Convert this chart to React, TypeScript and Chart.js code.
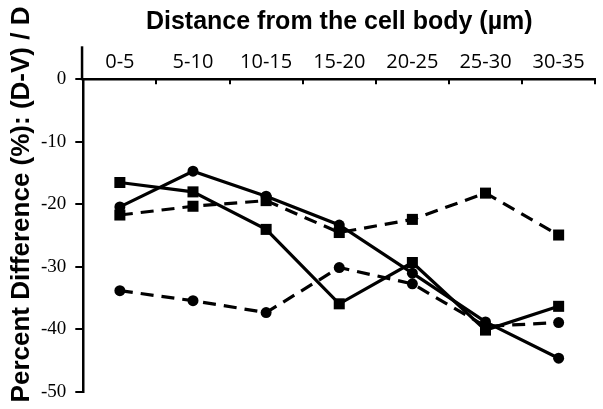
import React, { useEffect, useRef } from "react";
import { Chart, registerables } from "chart.js";

Chart.register(...registerables);

const categories = ["0-5", "5-10", "10-15", "15-20", "20-25", "25-30", "30-35"];
const solidCircle = [-20.4, -14.7, -18.7, -23.3, -31.0, -38.8, -44.6];
const solidSquare = [-16.5, -18.0, -24.0, -35.9, -29.3, -40.1, -36.3];
const dashedSquare = [-21.7, -20.3, -19.4, -24.5, -22.4, -18.2, -24.9];
const dashedCircle = [-33.8, -35.4, -37.3, -30.1, -32.7, -39.5, -38.9];
const yTicks = [0, -10, -20, -30, -40, -50];

const xTitle = "Distance from the cell body (µm)";
const yTitle = "Percent Difference (%): (D-V) / D";

const TITLE_FAMILY = "'Liberation Sans', Arial, sans-serif";

const axisExtension = {
  id: "axisExtension",
  afterDraw(chart: any) {
    const ys = chart.scales.y;
    const ctx = chart.ctx;
    const x = ys.right - 1.25;
    ctx.save();
    ctx.strokeStyle = "#000";
    ctx.lineWidth = 2.5;
    ctx.beginPath();
    ctx.moveTo(x, chart.chartArea.top + 1);
    ctx.lineTo(x, chart.chartArea.top - 33);
    ctx.stroke();
    ctx.restore();
  },
};

export default function App() {
  const ref = useRef<HTMLCanvasElement | null>(null);
  useEffect(() => {
    if (!ref.current) return;
    const mk = (label: string, data: number[], style: string, dashed: boolean) => ({
      label,
      data,
      borderColor: "#000",
      backgroundColor: "#000",
      borderWidth: 3.2,
      borderDash: dashed ? [13, 8] : [],
      pointStyle: style,
      pointRadius: style === "rect" ? 7.8 : 5.5,
      pointBorderWidth: 0,
      pointBackgroundColor: "#000",
      tension: 0,
      clip: false as any,
    });
    const chart = new Chart(ref.current, {
      type: "line",
      data: {
        labels: categories,
        datasets: [
          mk("solid circle", solidCircle, "circle", false),
          mk("solid square", solidSquare, "rect", false),
          mk("dashed square", dashedSquare, "rect", true),
          mk("dashed circle", dashedCircle, "circle", true),
        ],
      },
      options: {
        animation: false,
        responsive: true,
        maintainAspectRatio: false,
        layout: { padding: { left: 0, right: 7, top: 0, bottom: 0 } },
        plugins: {
          legend: { display: false },
          tooltip: { enabled: false },
          title: {
            display: true,
            position: "left",
            text: yTitle,
            color: "#000",
            font: { family: TITLE_FAMILY, size: 26, weight: "bold" },
            padding: { top: 6.5, bottom: 0 },
            fullSize: true,
          },
        },
        scales: {
          x: {
            type: "category",
            position: "top",
            offset: true,
            grid: {
              offset: true,
              drawOnChartArea: false,
              drawTicks: true,
              tickLength: -5,
              color: "#000",
              lineWidth: 2,
            },
            border: { color: "#000", width: 2.5 },
            ticks: {
              color: "#000",
              font: { family: "'Open Sans', sans-serif", size: 20 },
              padding: 10,
              maxRotation: 0,
              autoSkip: false,
            },
            title: {
              display: true,
              text: xTitle,
              color: "#000",
              font: { family: TITLE_FAMILY, size: 25, weight: "bold" },
              padding: { top: 7, bottom: 0 },
            },
            afterFit: (s: any) => {
              s.height = 79.3;
            },
          },
          y: {
            type: "linear",
            min: -50,
            max: 0,
            afterBuildTicks: (s: any) => {
              s.ticks = yTicks.map((v) => ({ value: v }));
            },
            grid: {
              drawOnChartArea: false,
              drawTicks: true,
              tickLength: 8,
              color: "#000",
              lineWidth: 2,
            },
            border: { color: "#000", width: 2.5 },
            ticks: {
              color: "#000",
              font: { family: "'Liberation Serif', serif", size: 19 },
              padding: 9,
            },
            afterFit: (s: any) => {
              s.width = 45.6;
              s.paddingBottom = 17;
            },
          },
        },
      },
      plugins: [axisExtension],
    });
    return () => chart.destroy();
  }, []);
  return (
    <div style={{ position: "absolute", left: 0, top: 0, width: 603, height: 409, background: "#fff" }}>
      <canvas ref={ref} />
    </div>
  );
}
